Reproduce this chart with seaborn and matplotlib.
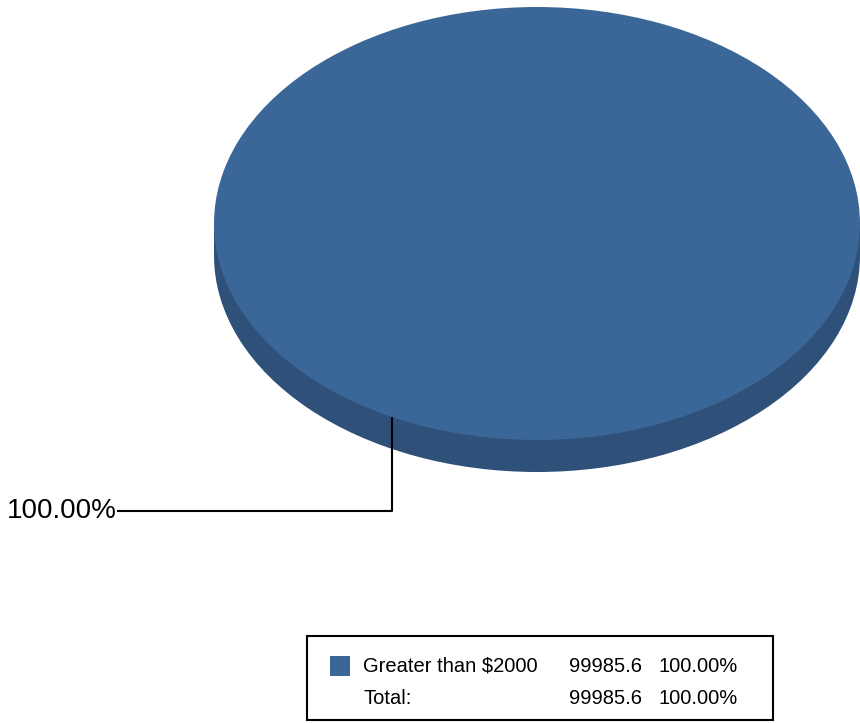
import numpy as np
import matplotlib
matplotlib.use("Agg")
import matplotlib.pyplot as plt
from matplotlib.patches import Rectangle
import seaborn as sns

# data
categories = ["Greater than $2000"]
values = [99985.6]
total_label = "Total:"

sns.set_theme(style="white")
plt.rcParams["font.family"] = ["Liberation Sans", "DejaVu Sans"]
plt.rcParams["text.color"] = "black"

top_color = "#3b6798"
side_color = "#2e5079"

W, H = 860, 723
fig = plt.figure(figsize=(W / 100, H / 100), dpi=100)

# pie axes: ellipse spans x 214..860, top face y 7..440, side down to 472
depth = 32 / 216.5
ax = fig.add_axes([214 / W, (H - 472) / H, 646 / W, 465 / H])

total = sum(values)
pct = [v / total * 100 for v in values]

# side (extruded part)
ax.pie(values, colors=[side_color], center=(0, -depth), startangle=90,
       counterclock=False, wedgeprops=dict(linewidth=0))
ax.add_patch(Rectangle((-1, -depth), 2, depth, color=side_color, lw=0))
# top face
ax.pie(values, colors=[top_color], center=(0, 0), startangle=90,
       counterclock=False, wedgeprops=dict(linewidth=0))
ax.set_aspect("auto")
ax.set_xlim(-1, 1)
ax.set_ylim(-1 - depth, 1)
ax.axis("off")

# leader line and percentage label
ang = np.deg2rad(243.3)
x0, y0 = np.cos(ang), np.sin(ang)
y_lab = -1.33
x_lab = -1.30
ax.plot([x0, x0, x_lab], [y0, y_lab, y_lab], color="black", lw=1.5,
        clip_on=False, solid_capstyle="butt")
ax.text(x_lab, y_lab, f"{pct[0]:.2f}%", ha="right", va="center",
        fontsize=20, color="black", clip_on=False)

# legend table box
def fx(px):
    return px / W

def fy(py):
    return 1 - py / H

fig.patches.append(Rectangle((fx(307), fy(720)), fx(773) - fx(307), fy(636) - fy(720),
                             transform=fig.transFigure, fill=False,
                             edgecolor="black", lw=1.5))
row_y = [666, 699]
fs = 14.5
for i, (cat, val, p) in enumerate(zip(categories, values, pct)):
    fig.patches.append(Rectangle((fx(330), fy(row_y[i] + 10)), fx(20), 20 / H,
                                 transform=fig.transFigure, color=top_color, lw=0))
    fig.text(fx(363), fy(row_y[i]), cat, ha="left", va="center", fontsize=fs)
    fig.text(fx(569), fy(row_y[i]), f"{val:g}", ha="left", va="center", fontsize=fs)
    fig.text(fx(659), fy(row_y[i]), f"{p:.2f}%", ha="left", va="center", fontsize=fs)

fig.text(fx(363), fy(row_y[1]), total_label, ha="left", va="center", fontsize=fs)
fig.text(fx(569), fy(row_y[1]), f"{total:g}", ha="left", va="center", fontsize=fs)
fig.text(fx(659), fy(row_y[1]), f"{sum(pct):.2f}%", ha="left", va="center", fontsize=fs)

fig.savefig("out.png", dpi=100, facecolor="white")
